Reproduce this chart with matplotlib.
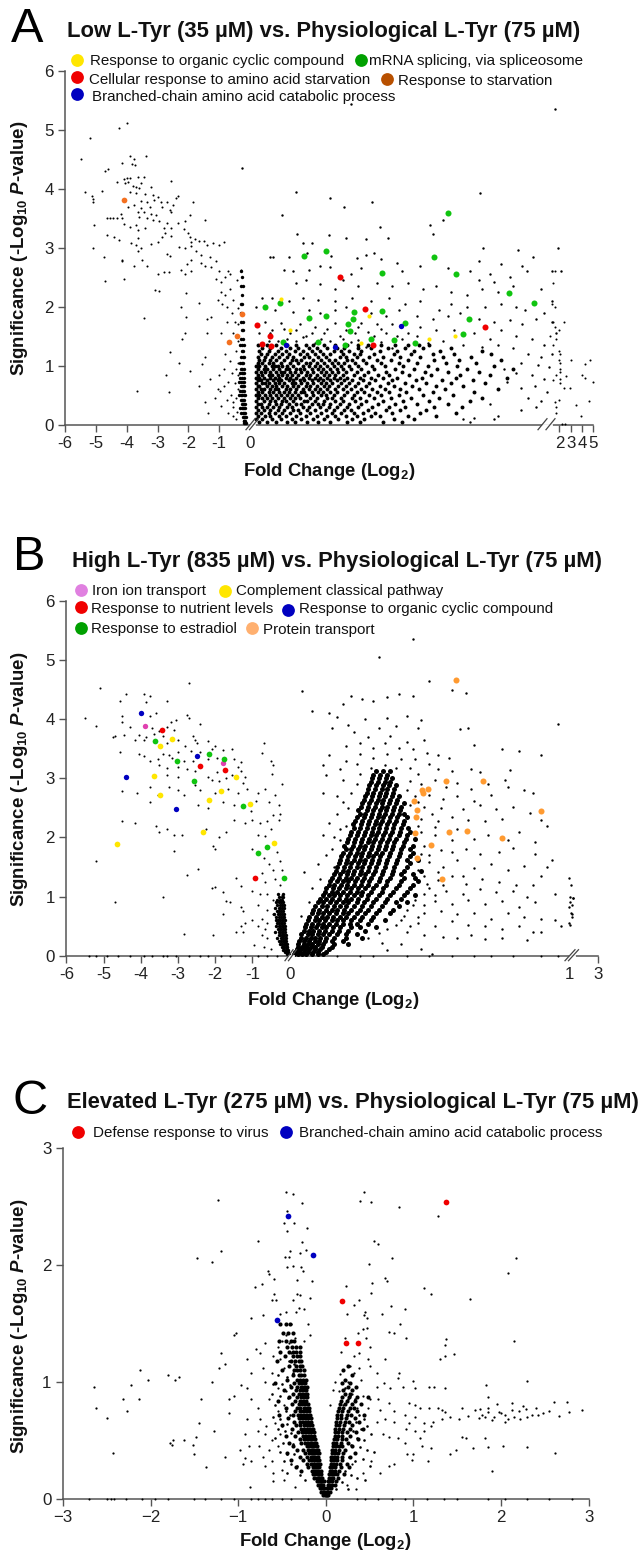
import numpy as np
import matplotlib
matplotlib.use("Agg")
import matplotlib.pyplot as plt

plt.rcParams['font.family'] = ['Liberation Sans', 'DejaVu Sans']
plt.rcParams['mathtext.fontset'] = 'custom'
plt.rcParams['mathtext.rm'] = 'Liberation Sans:bold'
plt.rcParams['mathtext.it'] = 'Liberation Sans:italic:bold'
plt.rcParams['mathtext.bf'] = 'Liberation Sans:bold'
plt.rcParams['mathtext.default'] = 'regular'

W, H = 639, 1553

# values, panel A
a_left = [(-5.5,4.51),(-5.2,4.86),(-4.25,5.03),(-4.0,5.11),(-5.34,3.95),(-5.14,3.88),(-5.08,3.83),(-5.08,3.77),(-4.79,3.97),
 (-4.7,4.31),(-4.62,4.34),(-4.3,4.12),(-4.16,4.44),(-3.9,4.55),(-3.75,4.51),(-3.39,4.55),(-3.82,4.42),(-3.74,4.41),(-4.1,4.17),
 (-4.0,4.18),(-3.9,4.18),(-4.05,4.1),(-3.95,4.12),(-3.65,4.2),(-3.45,4.21),(-3.8,4.05),(-3.7,4.03),(-3.55,4.1),(-3.6,4.02),
 (-3.2,4.03),(-2.55,4.13),(-3.9,3.95),(-3.7,3.93),(-3.4,3.92),(-3.15,3.9),(-3.0,3.87),(-2.35,3.88),(-2.4,3.85),(-3.55,3.8),
 (-3.35,3.78),(-3.1,3.82),(-2.9,3.78),(-2.7,3.77),(-1.85,3.77),(-2.5,3.72),(-3.95,3.7),(-3.75,3.72),(-3.55,3.68),(-3.25,3.7),
 (-2.85,3.7),(-2.6,3.65),(-2.55,3.6),(-3.65,3.6),(-3.45,3.6),(-3.2,3.58),(-3.05,3.55),(-1.95,3.55),(-4.2,3.58),(-3.6,3.52),
 (-3.35,3.5),(-3.15,3.48),(-2.95,3.45),(-2.35,3.42),(-2.1,3.45),(-1.45,3.48),(-2.7,3.42),(-4.65,3.5),(-4.55,3.5),(-4.45,3.5),
 (-4.3,3.5),(-4.15,3.5),(-3.9,3.35),(-3.7,3.38),(-3.4,3.33),(-2.8,3.33),(-2.55,3.33),(-2.15,3.32),(-5.05,3.38),(-4.1,3.4),
 (-3.65,3.3),(-2.75,3.25),(-2.0,3.25),(-2.55,3.2),(-1.95,3.18),(-1.8,3.15),(-1.65,3.12),(-1.5,3.12),(-1.9,3.1),(-2.85,3.18),
 (-3.0,3.1),(-3.2,3.07),(-3.65,3.17),(-4.65,3.22),(-4.4,3.18),(-4.25,3.13),(-3.85,3.08),(-3.7,3.05),(-3.55,2.99),(-3.65,2.95),
 (-5.1,2.99),(-4.75,2.84),(-4.15,2.8),(-3.5,2.8),(-2.7,2.9),(-2.6,2.87),(-2.3,3.02),(-2.1,3.0),(-1.9,3.03),(-1.75,2.95),(-1.6,2.88),
 (-1.4,3.05),(-1.2,3.08),(-1.0,3.05),(-0.85,3.1),(-1.9,2.8),(-1.3,2.85),(-4.7,2.44),(-4.09,2.47),(-4.16,2.77),(-3.75,2.7),(-3.33,2.7),
 (-3.0,2.56),(-2.79,2.59),(-2.63,2.59),(-3.09,2.28),(-2.95,2.27),(-3.43,1.81),(-3.66,0.58),(-2.64,0.55),(-2.74,0.84),(-2.6,1.24),
 (-2.3,1.05),(-2.22,1.45),(-2.12,1.56),(-2.08,1.82),(-2.24,2.0),(-2.08,2.23),(-2.24,2.62),(-2.04,2.73),(-1.95,0.91),(-1.67,0.66),
 (-1.45,1.14),(-1.55,1.03),(-1.39,1.56),(-1.38,1.79),(-1.25,1.83),(-1.64,2.07),(-1.36,0.19),(-1.45,0.39),(-1.29,0.78),(-1.9,2.6),
 (-2.1,2.55),(-1.6,2.75),(-1.45,2.7),(-1.25,2.68),(-1.1,2.78),(-1.0,2.6),(-1.1,2.48),(-0.95,2.42),(-0.8,2.5),(-0.7,2.6),(-0.95,2.25),
 (-0.8,2.2),(-0.65,2.3),(-1.05,2.12),(-0.9,2.05),(-0.75,2.0),(-0.55,2.12),(-0.6,1.9),(-0.75,1.75),(-0.5,1.75),(-0.95,1.55),(-0.55,1.55),
 (-0.4,1.7),(-0.8,1.2),(-0.65,1.08),(-0.45,1.25),(-1.0,0.85),(-0.85,0.95),(-0.6,0.88),(-0.45,0.95),(-1.05,0.6),(-0.98,0.58),(-0.85,0.65),
 (-0.7,0.72),(-0.5,0.7),(-1.15,0.45),(-0.95,0.32),(-0.75,0.42),(-0.62,0.5),(-0.55,0.38),(-0.45,0.45),(-0.7,0.2),(-0.55,0.15),(-0.42,0.22),
 (-0.55,0.3),(-0.45,0.1),(-0.4,0.6),(-0.38,0.85),(-0.38,1.05),(-0.4,1.42),(-0.38,1.98),(-0.42,2.45),(-0.3,2.62),(-0.65,2.55)]
a_stem_y = [2.6,2.5,2.35,2.2,2.05,1.9,1.75,1.6,1.45,1.35,1.25,1.15,1.05,.95,.88,.8,.72,.65,.58,.5,.42,.35,.28,.2,.13,.07,.03]
a_stem_x = [[-.3],[-.26],[-.3,-.24],[-.27],[-.25,-.3],[-.28],[-.3,-.24],[-.27,-.22],[-.28,-.23],[-.31,-.25,-.21],[-.27,-.22],[-.3,-.24,-.2],
 [-.33,-.27,-.22],[-.29,-.25,-.2],[-.34,-.27,-.23,-.19],[-.31,-.26,-.21],[-.36,-.28,-.24,-.19],[-.3,-.26,-.22,-.18],[-.33,-.27,-.23,-.19],
 [-.36,-.3,-.25,-.2,-.17],[-.3,-.26,-.22,-.18],[-.27,-.24,-.2,-.16],[-.33,-.25,-.22,-.18,-.15],[-.28,-.22,-.19,-.16],[-.24,-.2,-.17,-.14],[-.21,-.18,-.15],[-.18,-.16,-.13]]
a_cloud_y = [.05,.1,.15,.2,.25,.3,.35,.4,.45,.5,.55,.6,.65,.7,.75,.8,.85,.9,.95,1.0,1.05,1.1,1.15,1.2,1.25,1.3,1.35]
a_cloud_x = [[.06,.11,.17,.24,.29,.37,.44,.52,.63,.71,.86,.98],
 [.04,.08,.14,.2,.27,.33,.41,.48,.57,.66,.74,.93,1.06],
 [.05,.1,.13,.19,.23,.3,.36,.43,.5,.55,.62,.69,.78,.84,1.02,1.2],
 [.04,.07,.12,.16,.21,.26,.32,.39,.46,.53,.59,.67,.73,.81,.92,1.1,1.33],
 [.05,.09,.13,.18,.22,.28,.31,.37,.42,.49,.54,.61,.65,.76,.88,.97,1.14],
 [.04,.08,.11,.15,.19,.24,.27,.34,.38,.45,.51,.56,.63,.7,.79,.9,1.0,1.19,1.37],
 [.05,.07,.12,.17,.2,.25,.3,.33,.4,.44,.47,.52,.58,.64,.72,.83,.94,1.08,1.28],
 [.04,.09,.13,.16,.21,.23,.28,.35,.37,.42,.48,.55,.6,.68,.75,.86,.99,1.16,1.42],
 [.05,.08,.11,.14,.18,.22,.26,.29,.32,.39,.43,.5,.53,.59,.66,.71,.8,.91,1.04,1.22,1.5],
 [.04,.06,.1,.13,.17,.2,.24,.27,.31,.36,.41,.46,.49,.54,.61,.67,.77,.85,.96,1.12,1.31],
 [.05,.08,.12,.15,.19,.22,.25,.29,.33,.35,.4,.44,.47,.52,.56,.63,.69,.74,.82,.9,1.01,1.18,1.45],
 [.04,.07,.09,.13,.16,.18,.23,.26,.3,.34,.38,.42,.45,.5,.55,.6,.65,.72,.79,.87,.97,1.09,1.26,1.6],
 [.05,.06,.11,.14,.17,.21,.24,.28,.31,.36,.39,.43,.48,.51,.57,.62,.68,.75,.84,.93,1.05,1.2,1.38],
 [.04,.08,.1,.12,.16,.19,.22,.27,.29,.33,.37,.41,.46,.49,.53,.59,.64,.7,.77,.89,1.0,1.14,1.3,1.52],
 [.05,.07,.11,.15,.18,.2,.25,.28,.32,.35,.4,.44,.47,.52,.56,.61,.66,.73,.81,.92,1.07,1.24,1.44],
 [.04,.06,.09,.13,.16,.19,.23,.26,.3,.34,.38,.42,.45,.5,.54,.58,.63,.71,.78,.86,.95,1.11,1.33,1.66],
 [.05,.08,.12,.14,.18,.21,.24,.27,.31,.36,.39,.43,.48,.51,.55,.6,.67,.74,.83,.9,1.03,1.17,1.36,1.55],
 [.04,.07,.1,.13,.17,.2,.22,.26,.29,.33,.37,.41,.46,.49,.53,.57,.62,.69,.76,.88,.98,1.13,1.28,1.48],
 [.05,.09,.11,.15,.19,.23,.25,.3,.32,.35,.4,.44,.47,.52,.56,.6,.65,.72,.8,.94,1.06,1.21,1.4,1.7],
 [.04,.06,.1,.14,.16,.18,.21,.24,.28,.34,.38,.42,.45,.5,.54,.59,.64,.7,.79,.87,.99,1.15,1.34,1.58],
 [.05,.08,.12,.15,.2,.26,.31,.36,.39,.43,.48,.53,.57,.61,.68,.75,.85,.96,1.08,1.27,1.46],
 [.06,.09,.13,.17,.22,.27,.3,.33,.41,.46,.51,.55,.63,.66,.73,.82,.91,1.02,1.19,1.35,1.62],
 [.05,.1,.14,.19,.24,.28,.35,.38,.44,.49,.58,.62,.69,.77,.86,.97,1.1,1.25,1.43],
 [.07,.11,.16,.21,.25,.32,.37,.42,.47,.52,.6,.67,.71,.8,.93,1.04,1.18,1.32,1.56],
 [.06,.12,.18,.23,.29,.34,.4,.45,.54,.59,.64,.72,.84,.95,1.06,1.23,1.5],
 [.08,.13,.2,.26,.31,.38,.43,.5,.56,.61,.7,.78,.89,1.0,1.12,1.3],
 [.05,.11,.17,.24,.3,.36,.41,.48,.55,.63,.7,.76,.85,.94,1.02,1.09,1.16]]
a_right = [(.65,5.44),(1.97,5.36),(-.26,4.36),(.295,3.94),(.516,3.85),(.608,3.7),(.789,3.77),(1.484,3.93),(.21,3.56),(1.166,3.38),(1.25,3.47),
 (.842,3.36),(.303,3.23),(.513,3.21),(.621,3.17),(.75,3.15),(.895,3.16),(1.184,3.23),(.342,3.08),(.403,3.08),(1.505,2.99),(1.734,2.97),(1.99,2.99),
 (.75,2.88),(.803,2.92),(.526,2.87),(.129,2.85),(.15,2.85),(.25,2.84),(.692,2.82),(.85,2.81),(1.83,2.85),(.368,2.91),(1.48,2.78),(1.62,2.72),
 (1.76,2.7),(1.95,2.6),(2.1,2.6),(1.42,2.6),(1.55,2.55),(1.48,2.45),(1.58,2.42),(1.68,2.5),(1.79,2.6),(1.28,2.65),(1.1,2.7),(.98,2.6),(.95,2.75),
 (.72,2.65),(.65,2.55),(.52,2.68),(.45,2.7),(.38,2.62),(.28,2.6),(.22,2.62),(.3,2.4),(.36,2.45),(.45,2.38),(.55,2.3),(.6,2.45),(.7,2.35),(.82,2.4),
 (.92,2.35),(1.02,2.4),(1.12,2.3),(1.2,2.35),(1.3,2.25),(1.4,2.2),(1.5,2.3),(1.6,2.25),(1.7,2.35),(1.88,2.3),(1.95,2.1),(1.9,1.9),(1.85,1.8),(1.95,1.75),
 (1.98,1.55),(1.78,1.95),(1.72,2.0),(1.62,2.05),(1.52,2.0),(1.4,2.0),(1.3,2.05),(1.22,1.95),(1.1,2.1),(1.0,2.05),(.9,2.15),(.78,2.1),(.66,2.15),(.55,2.1),
 (.44,2.12),(.34,2.15),(.25,2.1),(.14,2.15),(.08,2.15),(.04,2.0),(.16,1.95),(.28,1.92),(.38,1.95),(.45,1.9),(.55,1.95),(.62,2.0),(.78,1.9),(.88,1.85),
 (.96,1.95),(1.08,1.85),(1.18,1.8),(1.28,1.85),(1.36,1.9),(1.48,1.8),(1.58,1.75),(1.68,1.78),(1.76,1.7),(1.62,1.6),(1.72,1.5),(1.82,1.45),(1.9,1.35),
 (1.55,1.45),(1.45,1.55),(1.32,1.6),(1.2,1.6),(1.1,1.65),(1.02,1.55),(.92,1.7),(.82,1.7),(.72,1.72),(.55,1.72),(.42,1.65),(.32,1.7),(.2,1.72),(.1,1.75),
 (.06,1.55),(.14,1.6),(.26,1.55),(.36,1.5),(.48,1.55),(.58,1.5),(.68,1.55),(.76,1.58),(.88,1.55),(.98,1.45),(1.08,1.5),(1.15,1.38),(1.25,1.42),(1.38,1.35),
 (1.5,1.32),(1.6,1.35),(1.7,1.3),(.18,1.42),(.3,1.42),(.42,1.38),(.52,1.42),(.65,1.4),(.75,1.32),(.85,1.4),(.92,1.3),(.12,1.42),(.24,1.45),(.34,1.48),
 (.46,1.46),(.6,1.46),(.7,1.44),(.8,1.5),(.95,1.5),(.13,1.55),(.22,1.62),(.3,1.6),(.4,1.55),(.5,1.62),(.62,1.6),(.7,1.65),(.85,1.62),
 (1.38,.1),(1.8,1.2),(1.88,1.15),(1.75,1.05),(1.86,1.02),(1.93,.98),(1.95,1.2),(1.72,.88),(1.82,.85),(1.9,.78),(1.84,.65),(1.92,.55),(1.8,.45),(1.88,.4),(1.55,.35),(1.75,.25),(1.85,.3),
 (1.6,.15),(1.58,.1),(1.42,.05),(1.45,.12),(1.66,.72),(1.64,.95),(1.75,.62)]
a_far = [(1.97,2.6),(1.96,2.4),(1.95,2.05),(1.97,2.0),(1.96,1.75),(2.45,1.75),(1.97,1.65),(2.0,1.6),(1.94,1.5),(1.98,1.45),(1.96,1.35),
 (2.0,1.25),(2.03,1.2),(2.0,1.1),(2.04,1.05),(3.0,1.1),(4.7,1.1),(4.3,1.03),(2.02,.95),(2.05,.9),(1.98,.85),(2.6,.82),(4.0,.85),(4.3,.8),(2.02,.78),
 (1.96,.75),(5.0,.73),(2.05,.7),(2.4,.63),(2.9,.62),(2.0,.42),(1.97,.38),(1.98,.3),(3.5,.33),(4.65,.41),(3.95,.14),(1.98,.2),(2.2,.02),(2.5,.02)]
a_orange = [(-4.1,3.81),(-0.26,1.88),(-0.43,1.5),(-0.67,1.4)]
a_green = [(1.279,3.59),(.492,2.94),(.35,2.86),(1.187,2.85),(.855,2.58),(1.329,2.55),(1.671,2.23),(1.834,2.07),(.1,1.99),(.197,2.06),(.671,1.91),
 (.855,1.93),(.382,1.81),(.489,1.84),(.668,1.8),(.634,1.7),(.645,1.59),(1.418,1.79),(1.005,1.72),(1.376,1.54),(.782,1.46),(.934,1.44),(.442,1.41),
 (.216,1.4),(.616,1.36),(1.066,1.38)]
a_red = [(.582,2.5),(.742,1.96),(.045,1.69),(.129,1.5),(.079,1.37),(.134,1.33),(.792,1.36),(1.518,1.66)]
a_blue = [(.974,1.68),(.55,1.32),(.232,1.36)]
a_yellow = [(.203,2.13),(.771,1.85),(.26,1.61),(.716,1.38),(1.158,1.45),(1.326,1.5)]

# panel B
b_left = [(-5.1,4.52),(-4.4,4.43),(-3.9,4.42),(-3.75,4.4),(-4.55,4.3),(-2.7,4.62),(-3.3,4.31),(-3.85,4.29),(-4.5,4.05),(-5.5,4.02),(-3.6,4.1),(-3.75,4.05),
 (-2.75,4.08),(-2.7,4.02),(-5.2,3.89),(-4.5,3.95),(-3.2,3.95),(-3.05,3.98),(-2.4,3.92),(-4.3,3.87),(-3.7,3.85),(-3.5,3.8),(-3.3,3.87),(-3.1,3.82),
 (-4.75,3.7),(-4.7,3.72),(-4.45,3.73),(-4.05,3.74),(-3.85,3.7),(-3.65,3.75),(-3.4,3.72),(-2.6,3.72),(-2.55,3.65),(-4.15,3.65),(-3.9,3.65),(-3.3,3.6),
 (-3.0,3.65),(-2.8,3.55),(-2.5,3.6),(-2.2,3.63),(-2.0,3.55),(-1.8,3.48),(-4.55,3.45),(-4.05,3.42),(-3.9,3.38),(-3.4,3.42),(-3.25,3.4),(-3.0,3.45),
 (-2.65,3.47),(-2.4,3.45),(-2.1,3.5),(-1.55,3.5),(-0.7,3.6),(-0.75,3.43),(-3.75,3.3),(-3.55,3.33),(-3.15,3.35),(-2.85,3.3),(-2.6,3.3),(-2.2,3.33),(-1.95,3.35),
 (-1.5,3.32),(-1.3,3.28),(-1.4,3.2),(-0.5,3.3),(-3.5,3.22),(-3.3,3.18),(-3.0,3.2),(-2.75,3.15),(-2.55,3.12),(-1.95,3.1),(-1.55,3.05),(-1.3,3.12),(-1.2,3.02),
 (-0.45,3.22),(-0.48,3.08),(-3.3,3.05),(-3.0,3.02),(-2.2,3.03),(-2.1,2.98),(-1.9,2.95),(-1.7,3.0),(-1.25,2.92),(-0.2,2.9),(-4.5,2.78),(-4.1,2.75),(-3.75,2.86),
 (-3.55,2.72),(-3.25,2.85),(-3.0,2.8),(-2.85,2.72),(-2.55,2.88),(-2.4,2.8),(-2.0,2.75),(-1.65,2.82),(-1.4,2.75),(-1.15,2.82),(-0.85,2.75),(-0.65,2.82),(-0.4,2.72),
 (-3.75,2.6),(-2.45,2.55),(-2.2,2.5),(-1.8,2.6),(-1.5,2.55),(-1.05,2.45),(-0.9,2.62),(-0.55,2.6),(-0.3,2.55),(-0.25,2.4),(-0.45,2.38),(-4.5,2.28),(-4.15,2.25),
 (-3.6,2.2),(-3.5,2.1),(-3.3,2.15),(-3.1,2.04),(-2.9,2.05),(-2.25,2.15),(-1.9,2.0),(-1.7,2.1),(-1.5,2.3),(-1.2,2.25),(-1.0,2.3),(-0.8,2.25),(-0.6,2.28),(-0.5,2.15),
 (-0.3,2.3),(-0.85,2.05),(-0.65,2.02),(-3.1,1.77),(-2.05,1.85),(-2.0,1.8),(-1.0,1.8),(-0.7,1.65),(-0.35,1.75),(-0.25,1.6),(-0.55,1.55),(-0.45,1.45),(-0.2,1.45),(-5.2,1.6),
 (-2.45,1.47),(-2.75,1.37),(-1.45,1.32),(-0.75,1.4),(-0.65,1.25),(-0.4,1.3),(-0.25,1.2),(-4.7,.9),(-3.4,1.0),(-2.1,1.15),(-2.0,1.16),(-1.8,1.07),(-1.7,.92),(-1.6,.9),
 (-1.3,1.18),(-1.0,1.1),(-0.8,1.05),(-0.6,1.05),(-0.45,.95),(-0.2,1.02),(-1.3,.82),(-1.25,.75),(-1.8,.7),(-1.0,.6),(-0.85,.85),(-0.6,.78),(-0.45,.7),(-1.2,.55),(-1.3,.5),
 (-1.25,.4),(-1.45,.4),(-0.75,.62),(-0.85,.5),(-0.6,.55),(-0.75,.35),(-0.6,.3),(-2.85,.36),(-2.05,.35),(-0.95,.18),(-0.7,.15),(-0.5,.12),(-0.65,.45)]
b_stem_y = [1.05,1.0,.95,.9,.85,.8,.75,.7,.65,.6,.55,.5,.45,.4,.35,.3,.25,.2,.15,.1,.06,.03]
b_stem_x = [[-.32,-.18],[-.3,-.22,-.17],[-.34,-.26,-.2],[-.38,-.3,-.23,-.17],[-.33,-.27,-.21,-.16],[-.4,-.3,-.25,-.2,-.15],[-.35,-.28,-.23,-.18],[-.42,-.32,-.26,-.21,-.16],
 [-.36,-.29,-.24,-.19,-.15],[-.38,-.31,-.26,-.22,-.17,-.13],[-.34,-.28,-.24,-.2,-.16],[-.37,-.3,-.25,-.21,-.17,-.13],[-.32,-.27,-.23,-.19,-.15,-.12],[-.4,-.29,-.25,-.21,-.17,-.13],
 [-.3,-.26,-.22,-.18,-.14,-.11],[-.33,-.24,-.2,-.17,-.13,-.1],[-.28,-.23,-.19,-.15,-.12,-.09],[-.25,-.2,-.16,-.13,-.1,-.07],[-.21,-.17,-.14,-.11,-.08,-.06],[-.17,-.14,-.11,-.08,-.05],[-.12,-.09,-.06,-.04],[-.07,-.04,-.02]]
b_cloud_y = [.03,.07,.11,.15,.2,.25,.3,.36,.42,.48,.54,.6,.66,.72,.78,.84,.9,.96,1.02,1.08,1.14,1.2,1.26,1.32,1.38,1.44,1.5,1.56,1.62,1.68,1.74,1.8,1.86,1.92,1.98,
 2.04,2.1,2.16,2.22,2.28,2.34,2.4,2.46,2.52,2.58,2.64,2.7,2.76,2.82,2.88,2.94,3.0,3.06,3.12]
b_cloud_x = [[.015,.03,.045,.06,.08,.1,.12],[.02,.035,.05,.065,.085,.1,.13],[.025,.04,.055,.07,.09,.11,.14],[.03,.045,.06,.075,.09,.115,.15],[.03,.05,.065,.08,.1,.12,.16,.21],
 [.035,.05,.07,.09,.105,.125,.15,.19],[.04,.06,.075,.09,.11,.13,.16,.2,.26],[.04,.065,.08,.1,.12,.14,.17,.2,.24],[.05,.07,.085,.105,.125,.15,.175,.21,.27],[.055,.075,.095,.115,.13,.155,.18,.22,.25,.31],
 [.06,.08,.1,.12,.14,.165,.19,.215,.24,.28],[.065,.09,.105,.125,.15,.17,.19,.22,.25,.29,.34],[.07,.095,.115,.135,.155,.18,.2,.23,.26,.3],[.08,.1,.12,.14,.165,.19,.21,.24,.27,.31,.36],
 [.085,.105,.13,.15,.17,.195,.22,.25,.28,.32,.37],[.09,.115,.135,.16,.18,.2,.23,.26,.29,.33,.39],[.1,.12,.145,.165,.19,.21,.24,.265,.3,.34,.38,.42],[.11,.13,.15,.175,.2,.22,.245,.275,.31,.35,.4],
 [.12,.14,.16,.18,.205,.23,.255,.28,.32,.36,.41,.45],[.125,.15,.17,.19,.215,.24,.26,.29,.33,.37,.42],[.13,.155,.175,.2,.22,.245,.27,.3,.335,.38,.43],[.14,.16,.185,.205,.23,.255,.28,.31,.345,.39,.44],
 [.145,.17,.19,.21,.235,.26,.285,.32,.35,.4,.46],[.15,.175,.2,.22,.24,.265,.29,.325,.36,.41,.45],[.16,.18,.205,.225,.25,.27,.3,.33,.365,.4,.44],[.165,.19,.21,.23,.255,.28,.305,.335,.37,.41,.47],
 [.17,.195,.215,.24,.26,.285,.31,.34,.375,.42],[.175,.2,.22,.245,.265,.29,.315,.345,.38,.43],[.18,.205,.23,.25,.27,.295,.32,.35,.385,.42,.46],[.185,.21,.235,.255,.28,.3,.325,.355,.39,.43],
 [.19,.215,.24,.26,.285,.31,.33,.36,.395,.44],[.2,.22,.245,.265,.29,.315,.34,.365,.4,.43],[.195,.225,.25,.27,.295,.32,.345,.37,.405,.44],[.205,.23,.255,.28,.3,.325,.35,.375,.41],
 [.21,.235,.26,.285,.305,.33,.355,.38,.415,.45],[.215,.24,.265,.29,.31,.335,.36,.39,.42],[.22,.245,.27,.295,.315,.34,.365,.395,.43],[.23,.25,.275,.3,.32,.345,.37,.4,.425],[.225,.255,.28,.305,.325,.35,.375,.405],
 [.235,.26,.285,.31,.33,.355,.38,.41],[.24,.265,.29,.315,.335,.36,.385,.42],[.25,.27,.295,.32,.34,.365,.39,.41],[.245,.275,.3,.325,.345,.37,.395],[.255,.28,.305,.33,.35,.375,.4],[.26,.285,.31,.33,.355,.38,.41],
 [.265,.29,.315,.335,.36,.385],[.27,.295,.32,.34,.365,.39],[.275,.3,.325,.345,.37],[.28,.305,.33,.35,.375],[.285,.31,.335,.355,.38],[.29,.315,.34,.36],[.295,.32,.345,.365],[.3,.325,.35],[.31,.335,.36]]
b_right = [(.045,4.47),(.44,5.36),(.32,5.05),(.08,4.14),(.14,4.1),(.17,4.03),(.19,4.25),(.22,4.4),(.26,4.35),(.3,4.3),(.35,4.38),(.39,4.42),(.44,4.4),(.5,4.65),(.58,4.5),(.63,4.45),
 (.21,3.9),(.27,4.0),(.35,4.02),(.42,4.05),(.47,3.98),(.15,3.85),(.23,3.78),(.32,3.85),(.38,3.88),(.46,3.85),(.61,3.84),(.64,3.85),(.96,3.92),(.28,3.7),(.36,3.72),(.42,3.62),(.48,3.65),(.66,3.56),
 (.76,3.49),(.82,3.47),(.9,3.4),(.2,3.55),(.25,3.6),(.3,3.52),(.34,3.6),(.39,3.52),(.44,3.5),(.49,3.43),(.53,3.4),(.57,3.35),(.14,3.4),(.2,3.3),(.25,3.42),(.3,3.35),(.35,3.42),(.4,3.33),(.45,3.33),(.5,3.25),
 (.12,3.22),(.18,3.15),(.24,3.25),(.29,3.18),(.34,3.22),(.38,3.18),(.43,3.18),(.46,3.08),(.53,3.15),(.58,3.12),(.65,3.15),(.68,3.1),(.79,3.14),(.77,2.98),(.13,3.05),(.19,2.98),(.25,3.08),(.43,2.95),
 (.47,2.9),(.52,2.98),(.56,2.85),(.6,2.92),(.65,2.82),(.71,2.9),(.78,2.85),(.12,2.75),(.17,2.7),(.21,2.5),(.17,2.4),(.45,2.7),(.5,2.72),(.55,2.65),(.6,2.7),(.66,2.62),(.72,2.72),(.84,2.8),(.87,2.75),
 (.48,2.52),(.54,2.5),(.62,2.48),(.68,2.55),(.74,2.48),(.8,2.52),(.86,2.42),(.14,2.25),(.2,2.2),(.47,2.32),(.53,2.28),(.58,2.35),(.64,2.3),(.7,2.28),(.76,2.32),(.92,2.2),(.9,2.3),(.12,2.05),(.18,1.95),
 (.47,2.1),(.52,2.05),(.6,2.15),(.66,1.98),(.71,2.05),(.78,1.95),(.82,2.1),(.88,1.92),(.15,1.8),(.48,1.85),(.54,1.78),(.58,1.95),(.63,1.8),(.68,1.72),(.75,1.75),(.8,1.82),(.88,1.72),(.94,1.62),(.92,1.5),
 (.1,1.55),(.16,1.5),(.5,1.58),(.55,1.5),(.6,1.62),(.66,1.48),(.72,1.55),(.78,1.45),(.84,1.52),(.9,1.35),(1.0,1.32),(.05,1.42),(.48,1.35),(.53,1.28),(.58,1.35),(.63,1.22),(.69,1.3),(.75,1.25),(.81,1.2),
 (.87,1.2),(.5,1.15),(.56,1.1),(.62,1.05),(.68,1.12),(.74,1.08),(.8,1.1),(.85,1.0),(.95,1.05),(1.15,1.19),(.45,.95),(.52,.92),(.58,.88),(.64,.95),(.7,.88),(.76,.92),(.82,.82),(.88,.9),(1.0,.83),(1.05,1.0),
 (1.1,.9),(1.15,.72),(1.22,.85),(1.25,.98),(1.3,.98),(.42,.78),(.48,.72),(.54,.75),(.6,.7),(.66,.72),(.72,.62),(.78,.72),(.84,.65),(.9,.62),(.95,.6),(1.22,.7),(1.18,.65),(.4,.6),(.46,.55),(.52,.5),(.58,.58),
 (.64,.52),(.7,.5),(.76,.45),(.82,.5),(.9,.4),(.97,.5),(1.02,.55),(1.08,.52),(.35,.45),(.42,.4),(.48,.35),(.55,.32),(.6,.3),(.65,.35),(.7,.28),(.76,.3),(.85,.27),(.87,.4),(.28,.3),(.33,.22),(.4,.2),(.47,.12),
 (.35,.1),(.51,.03),(.46,2.2),(.45,1.95),(.47,1.72),(.46,1.45),(.49,1.22),(.48,1.05),(.44,.85),(.41,.68),(.38,.52),(.32,.38),(.46,2.6),(.51,2.4),(.52,2.18),(.5,1.7),(.53,1.42),(.55,1.2),(.52,1.02),(.48,.85),
 (.46,.65),(.43,.5),(.24,2.9),(.42,2.8),(.43,2.55),(.22,2.75),(.19,2.6),(.18,2.15),(.16,2.0),(.13,1.7),(.11,1.3),(.08,1.15),(.07,.9),(.04,.68),(.05,.5),(.12,1.0),(.58,1.75),(.62,1.35)]
b_zero = [(-5.4,0),(-5.2,0),(-4.9,0),(-4.6,0),(-4.3,0),(-3.9,0),(-3.7,0),(-3.4,0),(-3.3,0),(-3.05,0),(-2.7,0),(-2.4,0),(-2.2,0),(-1.85,0),(-1.6,0),(-1.2,0),(-.85,0),(-.6,0),(-.35,0),
 (.17,0),(.25,0),(.3,0),(.42,0),(.5,0),(.58,0),(.66,0),(.72,0),(.8,0),(.9,0),(.96,0)]
b_blue = [(-3.99,4.11),(-2.48,3.38),(-4.41,3.02),(-3.05,2.48)]
b_magenta = [(-3.89,3.89),(-1.8,3.26)]
b_red = [(-3.43,3.82),(-2.42,3.21),(-1.74,3.14),(-.92,1.32)]
b_green = [(-3.62,3.63),(-3.03,3.29),(-2.18,3.42),(-1.77,3.32),(-2.57,2.96),(-1.25,2.54),(-.84,1.74),(-.61,1.84),(-.15,1.31)]
b_yellow = [(-3.16,3.67),(-3.48,3.54),(-3.64,3.04),(-1.45,3.03),(-1.84,2.78),(-3.48,2.72),(-2.16,2.64),(-1.07,2.57),(-2.33,2.09),(-4.65,1.89),(-.41,1.9)]
b_orange = [(.595,4.67),(.561,2.96),(.691,2.95),(.474,2.8),(.496,2.82),(.478,2.76),(.446,2.62),(.456,2.46),(.452,2.34),(.449,2.08),(.569,2.1),(.636,2.11),(.759,1.99),(.9,2.45),
 (.507,1.88),(.456,1.65),(.544,1.3)]

# panel C
c_sparse = [(-1.23,2.56),(-1.47,2.06),(-1.3,2.03),(-1.2,2.12),(-.77,2.21),(-.46,2.63),(-.38,2.61),(-.27,2.53),(-.44,2.46),(-.48,2.36),(-.36,2.36),(-.22,2.32),(-.44,2.29),(-.27,2.2),
 (-.41,2.12),(-.29,2.1),(-.23,2.13),(-.47,2.07),(-.42,2.07),(-.44,1.98),(-.37,1.99),(-.28,1.98),(-.26,1.95),(-.65,1.92),(-.66,1.95),(-.59,1.88),(-.33,1.87),(-.16,1.86),(-.81,1.81),(-.73,1.84),
 (-.59,1.75),(-.33,1.75),(-.29,1.74),(-.18,1.72),(-.61,1.7),(-.57,1.7),(-.37,1.7),(-.25,1.62),(-.31,1.63),(-.85,1.55),(-.72,1.57),(-.52,1.58),(-.45,1.6),(-.34,1.6),(-.2,1.5),(-.4,1.5),(-.45,1.4),
 (-1.05,1.4),(-1.02,1.42),(-.7,1.33),(-.55,1.3),(-.5,1.35),(-.42,1.33),(-.35,1.38),(-.25,1.35),(-.18,1.4),(-1.2,1.25),(-1.15,1.15),(-1.22,1.12),(-.9,1.2),(-.8,1.28),(-.75,1.25),(-.6,1.22),(-.52,1.2),
 (-.4,1.25),(-.3,1.22),(-.85,1.08),(-.72,1.12),(-.62,1.08),(-.48,1.12),(-2.12,1.1),(-1.8,1.06),(-1.72,1.02),(-1.68,1.04),(-2.03,1.02),(-2.65,.96),(-2.22,.97),(-1.3,1.0),(-1.1,.85),(-.97,.97),(-1.05,.88),
 (-.9,.95),(-.7,1.0),(-.55,.95),(-.45,.92),(-2.32,.85),(-2.13,.85),(-1.43,.85),(-2.62,.78),(-2.27,.75),(-1.1,.73),(-.85,.85),(-.78,.78),(-.65,.85),(-.55,.75),(-.48,.8),(-2.5,.69),(-1.45,.65),(-.9,.68),
 (-.75,.68),(-.68,.62),(-.58,.65),(-.5,.62),(-1.28,.58),(-1.48,.53),(-.92,.55),(-.78,.58),(-.7,.55),(-.62,.5),(-.52,.55),(-1.78,.48),(-1.75,.5),(-1.76,.46),(-1.62,.5),(-1.52,.46),(-.88,.45),(-.76,.45),
 (-.65,.42),(-.55,.45),(-2.43,.39),(-1.5,.38),(-1.15,.36),(-.98,.42),(-.92,.35),(-.85,.32),(-.72,.36),(-.62,.32),(-1.37,.27),(-.95,.3),(-.7,.28),(-.6,.22),(-.5,.25),(-.86,.1),(-.6,.15),(-.48,.16),(-.35,.1),
 (.44,2.63),(.39,2.55),(.52,2.54),(.84,2.5),(1.28,2.42),(.55,2.21),(.59,2.18),(.75,2.06),(2.17,2.06),(.49,2.01),(.68,1.89),(.7,1.86),(.53,1.85),(.23,1.82),(1.12,1.8),(1.2,1.75),(1.65,1.71),(.51,1.76),(.38,1.7),
 (.32,1.66),(.74,1.65),(.9,1.62),(.45,1.6),(2.08,1.93),(.24,1.58),(.44,1.57),(.47,1.55),(.64,1.58),(.85,1.5),(.78,1.42),(.72,1.43),(.92,1.38),(.37,1.42),(.42,1.45),(.47,1.46),(.46,1.38),(.22,1.38),
 (1.37,1.37),(1.36,1.32),(2.15,1.35),(.5,1.3),(.38,1.25),(.17,1.26),(.32,1.22),(.48,1.2),(.67,1.2),(1.3,1.2),(1.36,1.22),(1.46,1.24),(.5,1.14),(.27,1.14),(.38,1.12),(.58,1.08),(.83,1.08),(.16,1.07),(.32,1.08),
 (.25,1.0),(.1,1.0),(.4,1.02),(.82,1.03),(.66,.99),(.58,.96),(.73,.95),(.99,1.01),(2.3,1.01),(.88,.96),(1.02,.95),(1.18,.96),(1.23,.96),(1.36,.95),(1.83,.97),(.08,.93),(.15,.92),(.3,.9),(.42,.88),(.5,.85),
 (.6,.85),(.72,.82),(1.85,.87),(.95,.82),(.05,.8),(.2,.8),(.35,.78),(.48,.78),(.62,.76),(.78,.75),(.9,.72),(1.02,.8),(1.08,.78),(1.18,.78),(1.28,.78),(1.32,.76),(1.36,.74),(1.55,.78),(1.7,.76),(1.76,.77),(1.85,.78),
 (1.95,.81),(2.12,.82),(2.25,.79),(2.4,.78),(2.6,.83),(2.75,.83),(2.92,.76),(2.77,.74),(2.66,.71),(2.55,.75),(2.48,.73),(2.35,.72),(2.28,.77),(2.2,.75),(2.12,.76),(2.05,.72),(1.98,.74),(1.92,.7),(1.82,.7),
 (1.75,.69),(1.62,.71),(1.52,.68),(1.42,.7),(1.32,.68),(1.22,.66),(1.12,.65),(1.02,.7),(.95,.65),(1.2,.62),(1.12,.58),(1.02,.58),(.92,.6),(.78,.66),(.68,.68),(.58,.66),(.65,.55),(.72,.53),(.82,.52),
 (.9,.48),(1.08,.52),(1.55,.53),(1.6,.52),(1.68,.43),(1.82,.52),(1.85,.44),(2.02,.45),(2.3,.44),(2.62,.39),(1.17,.32),(1.1,.45),(1.2,.43),(1.42,.38),(1.48,.42),(1.9,.24),(.93,.38),(1.0,.38),(.98,.33),(.78,.3),
 (.72,.28),(.62,.22),(.52,.32),(.42,.22),(.34,.08),(.24,.12),(.3,.3),(2.0,.73),(2.08,.68),(2.15,.7),(2.22,.68),(2.3,.7),(2.42,.72),(2.05,.66),(1.9,.67),(1.85,.74),(1.78,.72)]
c_spread = [(-.42,1.18),(-.36,1.15),(-.55,1.06),(-.44,1.04),(-.37,1.08),(-.6,.98),(-.5,.98),(-.41,.97),(-.62,.9),(-.52,.88),(-.43,.86),(-.58,.8),(-.46,.75),(-.41,.72),(-.6,.7),(-.52,.68),(-.44,.64),
 (-.55,.6),(-.47,.58),(-.4,.56),(-.58,.52),(-.49,.48),(-.38,.47),(-.52,.4),(-.44,.38),(-.36,.38),(-.48,.32),(-.4,.3),(-.33,.28),(-.44,.22),(-.3,.2),(-.24,.16),
 (.22,.95),(.27,.88),(.33,.85),(.38,.72),(.25,.85),(.43,.68),(.34,.66),(.4,.6),(.47,.62),(.31,.58),(.36,.52),(.44,.5),(.52,.55),(.29,.46),(.39,.44),(.47,.42),(.55,.4),(.26,.36),(.33,.32),(.42,.34),(.5,.28),
 (.22,.24),(.29,.2),(.36,.18),(.45,.16),(.18,.14),(.25,.08),(.12,.08)]
c_cloud_y = [.03,.06,.09,.12,.15,.18,.21,.24,.27,.3,.33,.36,.39,.42,.45,.48,.51,.54,.57,.6,.63,.66,.69,.72,.75,.78,.81,.84,.87,.9,.93,.96,.99,1.02,1.06,1.1,1.14,1.18,1.22,1.26,1.3,1.35,1.42,1.5]
c_cloud_x = [[-.03,-.015,0,.01,.03],[-.05,-.03,-.015,.01,.025,.05],[-.07,-.05,-.035,-.02,.015,.03,.06],[-.09,-.07,-.05,-.03,.02,.04,.065,.1],[-.1,-.08,-.06,-.045,-.025,.03,.05,.07,.12],[-.13,-.1,-.08,-.06,-.04,.035,.06,.085,.14],
 [-.15,-.12,-.095,-.075,-.055,.04,.065,.09,.13,.21],[-.28,-.16,-.13,-.11,-.085,-.06,.045,.07,.1,.15],[-.34,-.2,-.15,-.125,-.1,-.075,.05,.075,.11,.17,.26],[-.22,-.17,-.14,-.115,-.09,-.07,.055,.085,.12,.16,.24],
 [-.4,-.26,-.19,-.16,-.13,-.105,-.08,.06,.09,.125,.19],[-.3,-.21,-.175,-.145,-.12,-.09,.06,.095,.13,.18,.28],[-.44,-.24,-.19,-.16,-.135,-.105,-.08,.07,.1,.14,.2,.33],[-.33,-.26,-.205,-.175,-.145,-.115,-.09,.07,.11,.15,.22],
 [-.38,-.22,-.19,-.16,-.13,-.1,.08,.115,.155,.19,.3],[-.42,-.28,-.235,-.2,-.17,-.14,-.11,.085,.12,.17,.25],[-.3,-.25,-.215,-.185,-.155,-.125,.09,.13,.18,.23,.37],[-.46,-.35,-.26,-.225,-.195,-.165,-.135,.1,.135,.185,.28],
 [-.32,-.27,-.235,-.2,-.17,-.14,.1,.14,.19,.24,.34],[-.39,-.28,-.245,-.21,-.18,-.15,.11,.15,.2,.27,.42],[-.5,-.34,-.295,-.25,-.22,-.19,-.16,.115,.155,.21,.3],[-.36,-.3,-.26,-.23,-.2,-.165,.12,.16,.22,.26,.38],
 [-.43,-.31,-.27,-.24,-.205,-.17,.13,.17,.235,.33],[-.53,-.38,-.32,-.28,-.245,-.21,-.18,.13,.175,.24,.29,.44],[-.35,-.295,-.26,-.225,-.19,.14,.19,.25,.36],[-.46,-.33,-.29,-.255,-.22,-.195,.145,.2,.27,.32],
 [-.39,-.31,-.27,-.24,-.205,.16,.22,.3,.4],[-.55,-.35,-.3,-.26,-.225,.17,.24,.33],[-.42,-.33,-.285,-.25,-.215,.19,.26,.35,.48],[-.37,-.31,-.27,-.24,-.21,.22,.28],[-.48,-.34,-.3,-.26,-.23,.2,.3],[-.4,-.33,-.28,-.25,-.22,.25,.34],
 [-.58,-.36,-.31,-.27,-.24,.18,.28],[-.44,-.33,-.3,-.26,-.23,.22],[-.38,-.31,-.28,-.25,.3],[-.5,-.36,-.33,-.29,-.25,.2],[-.42,-.34,-.3,-.27,.25],[-.56,-.4,-.35,-.31,-.28],[-.47,-.37,-.33,-.29],[-.52,-.42,-.38,-.34,-.3],
 [-.44,-.39,-.34,-.3],[-.54,-.46,-.4,-.36],[-.49,-.43,-.38],[-.52,-.46,-.41]]
c_red = [(1.374,2.54),(.181,1.69),(.227,1.33),(.362,1.33)]
c_blue = [(-.43,2.42),(-.144,2.09),(-.557,1.53)]
c_zero = [(-2.7,0),(-2.5,0),(-2.45,0),(-2.42,0),(-2.28,0),(-2.1,0),(-1.95,0),(-1.8,0),(-1.5,0),(-1.38,0),(-1.2,0),(-1.05,0),(-.85,0),(-.78,0),(-.7,0),(-.62,0),(-.5,0),(-.4,0),(-.2,0),(.35,0),(.45,0),(.6,0),
 (.75,0),(.9,0),(1.15,0),(1.35,0),(1.5,0),(1.85,0),(2.05,0),(2.3,0),(2.55,0),(2.81,0)]

a_xticks = [-6, -5, -4, -3, -2, -1, 0, 2, 3, 4, 5]
b_xticks = [-6, -5, -4, -3, -2, -1, 0, 1, 3]
c_xticks = [-3, -2, -1, 0, 1, 2, 3]
a_yticks = [0, 1, 2, 3, 4, 5, 6]
c_yticks = [0, 1, 2, 3]

a_legend = [("Response to organic cyclic compound", 76.5, 60, 90.3, 61, '#FFE600'),
            ("mRNA splicing, via spliceosome", 361, 60, 369, 61, '#00A000'),
            ("Cellular response to amino acid starvation", 76.5, 77, 88.7, 80, '#F00000'),
            ("Response to starvation", 387, 79, 398, 81.5, '#B85000'),
            ("Branched-chain amino acid catabolic process", 77, 94, 92, 97, '#0000C0')]
b_legend = [("Iron ion transport", 80.5, 590, 92, 591.5, '#E080E0'),
            ("Complement classical pathway", 224.5, 591, 236, 591.5, '#FFE600'),
            ("Response to nutrient levels", 81, 607, 91, 609, '#F00000'),
            ("Response to organic cyclic compound", 288, 609.7, 299, 609, '#0000C0'),
            ("Response to estradiol", 80.5, 628, 91, 628.7, '#00A000'),
            ("Protein transport", 252, 628, 263, 629.7, '#FFB070')]
c_legend = [("Defense response to virus", 78, 1131.7, 92.7, 1133.3, '#F00000'),
            ("Branched-chain amino acid catabolic process", 286, 1132, 298.6, 1132.7, '#0000C0')]


def make_axes(left, right, top, bottom):
    ax = fig.add_axes([left / W, 1 - bottom / H, (right - left) / W, (bottom - top) / H])
    ax.patch.set_alpha(0)
    ax.spines['top'].set_visible(False)
    ax.spines['right'].set_visible(False)
    ax.spines['left'].set_color('#555555')
    ax.spines['bottom'].set_color('#555555')
    ax.spines['left'].set_linewidth(1.1)
    ax.spines['bottom'].set_linewidth(1.1)
    ax.tick_params(length=5.2, width=1.0, color='#555555', labelsize=12.2, labelcolor='#222222', pad=3)
    return ax


def dots(ax, pts, color='black', size=2.2):
    xs = [p[0] for p in pts]
    ys = [p[1] for p in pts]
    ax.scatter(xs, ys, s=size, c=color, linewidths=0, clip_on=False, zorder=3)


def rows(ax, ys, xrows, size):
    pts = []
    for y, xs in zip(ys, xrows):
        for x in xs:
            pts.append((x, y))
    dots(ax, pts, size=size)


def pieces(ax, data_knots, pixel_knots):
    # broken x axis: data to pixel position, piece by piece
    def forward(v):
        return np.interp(v, data_knots, pixel_knots)

    def inverse(v):
        return np.interp(v, pixel_knots, data_knots)
    ax.set_xscale('function', functions=(forward, inverse))


def slashes(x0, x1, y, gap):
    over.plot([x0 + (x1 - x0) / 2, x0 + (x1 - x0) / 2 + gap], [y, y], color='white', lw=2, zorder=6)
    over.plot([x0, x1], [y + 5, y - 6], color='#444444', lw=0.9, zorder=7)
    over.plot([x0 + gap, x1 + gap], [y + 5, y - 6], color='#444444', lw=0.9, zorder=7)


def legend_row(items):
    for label, mx, my, tx, ty, col in items:
        over.plot([mx], [my], 'o', ms=9.2, color=col, mew=0)
        over.text(tx, ty, label, fontsize=10.9, va='center', ha='left', color='#111111')


fig = plt.figure(figsize=(W / 100, H / 100), dpi=100)
over = fig.add_axes([0, 0, 1, 1])
over.set_xlim(0, W)
over.set_ylim(H, 0)
over.axis('off')

# A
ax = make_axes(65.1, 593.2, 71, 424.7)
pieces(ax, [-6, 0, 2, 5], [65.1, 250, 559.4, 593.2])
ax.set_xlim(-6, 5)
ax.set_ylim(0, 6)
ax.set_xticks(a_xticks)
ax.set_xticklabels([str(v) for v in a_xticks])
ax.set_yticks(a_yticks)
ax.xaxis.get_major_ticks()[6].tick1line.set_visible(False)
dots(ax, a_left)
rows(ax, a_stem_y, a_stem_x, 6)
rows(ax, a_cloud_y, a_cloud_x, 8)
dots(ax, a_right, size=3)
dots(ax, a_far)
dots(ax, a_orange, '#F47020', 17)
dots(ax, a_green, '#10C410', 19)
dots(ax, a_red, '#F00000', 19)
dots(ax, a_blue, '#0000C0', 15)
dots(ax, a_yellow, '#FFE600', 9)

# B
ax = make_axes(66.3, 598, 601, 955.7)
pieces(ax, [-6, 0, 1, 3], [66.3, 289.7, 569, 598])
ax.set_xlim(-6, 3)
ax.set_ylim(0, 6)
ax.set_xticks(b_xticks)
ax.set_xticklabels([str(v) for v in b_xticks])
ax.set_yticks(a_yticks)
ax.xaxis.get_major_ticks()[6].tick1line.set_visible(False)
ax.xaxis.get_major_ticks()[7].tick1line.set_visible(False)
dots(ax, b_left)
rows(ax, b_stem_y, b_stem_x, 6)
rows(ax, b_cloud_y, b_cloud_x, 13)
dots(ax, b_right, size=3)
dots(ax, b_zero)
dots(ax, b_blue, '#0000C0', 15)
dots(ax, b_magenta, '#E040B0', 15)
dots(ax, b_red, '#F00000', 17)
dots(ax, b_green, '#10C410', 17)
dots(ax, b_yellow, '#FFE600', 17)
dots(ax, b_orange, '#FF9A30', 19)

# C
ax = make_axes(63, 588.7, 1148.3, 1498.7)
ax.set_xlim(-3, 3)
ax.set_ylim(0, 3)
ax.set_xticks(c_xticks)
ax.set_yticks(c_yticks)
dots(ax, c_sparse, size=2.6)
dots(ax, c_spread, size=3.5)
rows(ax, c_cloud_y, c_cloud_x, 9)
dots(ax, c_zero)
dots(ax, c_red, '#F00000', 17)
dots(ax, c_blue, '#0000C0', 17)

over.set_zorder(10)
slashes(246, 255, 424.7, 3.5)
slashes(538, 547, 424.7, 8)
slashes(285, 293, 955.7, 3.5)
slashes(565, 575, 955.7, 3.5)

legend_row(a_legend)
legend_row(b_legend)
legend_row(c_legend)

titles = [("Low L-Tyr (35 µM) vs. Physiological L-Tyr (75 µM)", 67, 32),
          ("High L-Tyr (835 µM) vs. Physiological L-Tyr (75 µM)", 72, 561.7),
          ("Elevated L-Tyr (275 µM) vs. Physiological L-Tyr (75 µM)", 67, 1102.7)]
for t, x, y in titles:
    over.text(x, y, t, fontsize=15.85, fontweight='bold', va='center', ha='left', color='#111111')
for t, x, y in [("A", 27, 30), ("B", 29, 557.5), ("C", 30, 1101)]:
    over.text(x, y, t, fontsize=35, va='center', ha='center', color='black')

ylab = "Significance (-Log$_{10}$ $\\mathit{P}$-value)"
for y in [248, 779, 1326]:
    over.text(20, y, ylab, rotation=90, fontsize=13.4, fontweight='bold', va='center', ha='center', color='#111111')
xlab = "Fold Change (Log$_{2}$)"
for x, y in [(329, 471.7), (333, 1000.7), (325.5, 1541.7)]:
    over.text(x, y, xlab, fontsize=13.3, fontweight='bold', va='center', ha='center', color='#111111')

fig.savefig("out.png", dpi=100)
